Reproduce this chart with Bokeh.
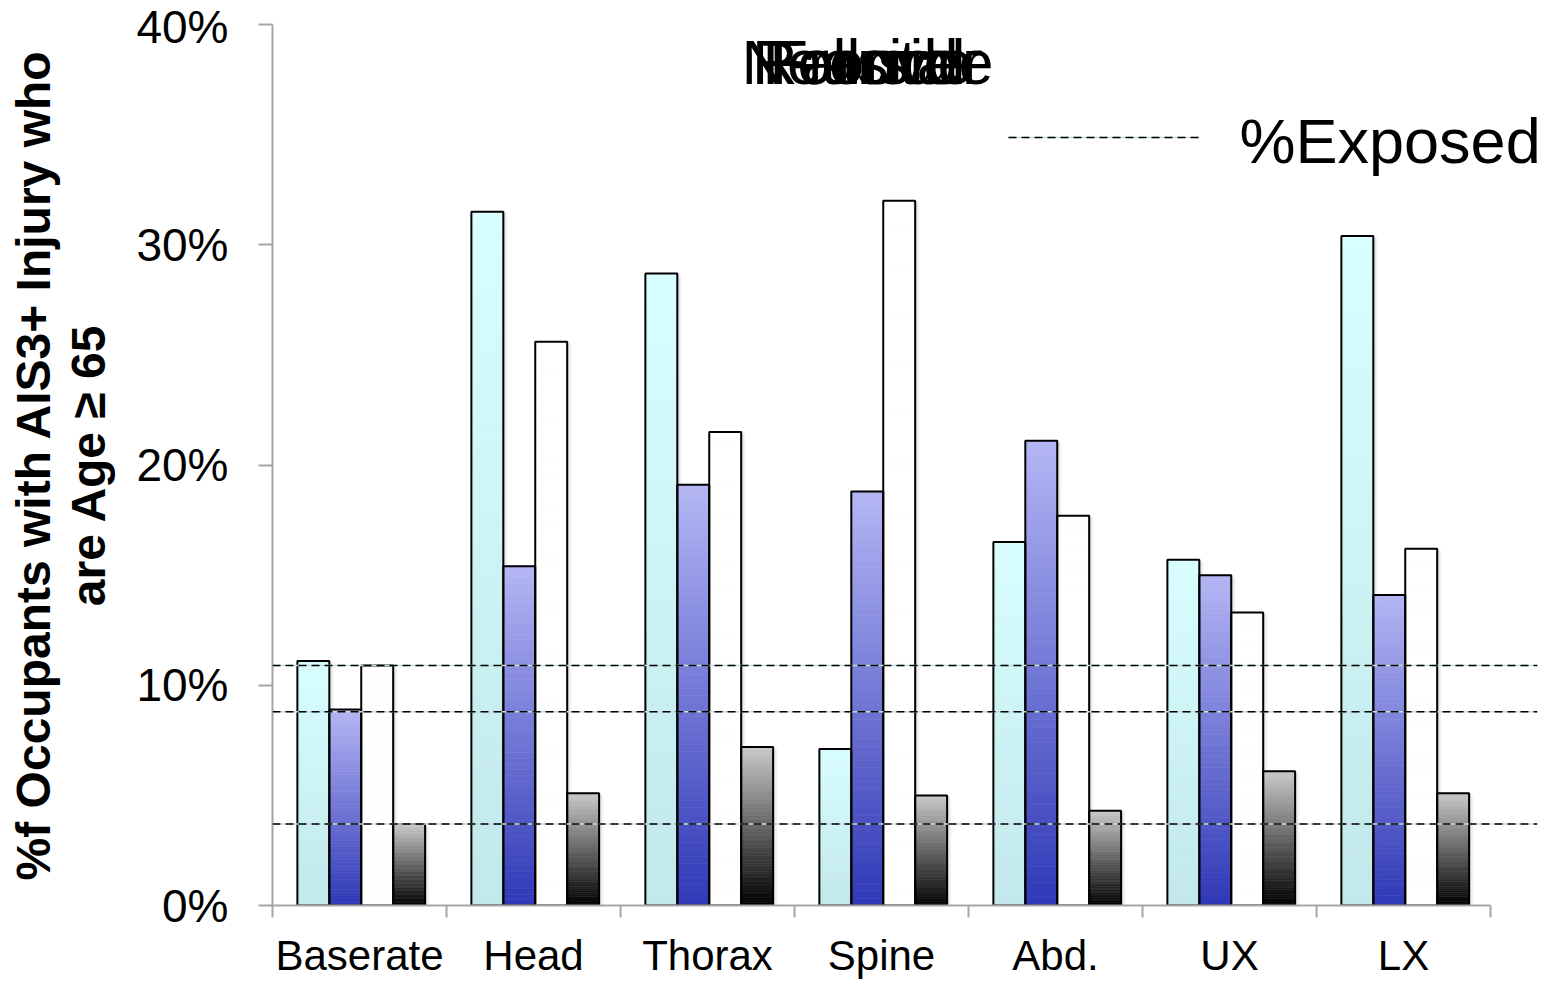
import numpy as np
from bokeh.plotting import figure
from bokeh.models import (Range1d, FixedTicker, Label, Span, Title,
                          LinearAxis, ColumnDataSource)
from bokeh.embed import file_html
from bokeh.resources import INLINE

# ---- data -------------------------------------------------------------
categories = ["Baserate", "Head", "Thorax", "Spine", "Abd.", "UX", "LX"]
series_names = ["Frontal", "Nearside", "Farside", "Rollover"]
frontal = [11.1, 31.5, 28.7, 7.1, 16.5, 15.7, 30.4]
nearside = [8.9, 15.4, 19.1, 18.8, 21.1, 15.0, 14.1]
farside = [10.9, 25.6, 21.5, 32.0, 17.7, 13.3, 16.2]
rollover = [3.7, 5.1, 7.2, 5.0, 4.3, 6.1, 5.1]
exposed = [10.9, 8.8, 3.7]
exposed_label = "%Exposed"
y_ticks = [0, 10, 20, 30, 40]
y_tick_labels = ["0%", "10%", "20%", "30%", "40%"]
y_title = ["%f Occupants with AIS3+ Injury who", "are Age \u2265 65"]

series_values = [frontal, nearside, farside, rollover]
# (bottom colour, top colour) of each series' vertical gradient
series_grad = [("#c2e8eb", "#d8feff"),
               ("#2f38b6", "#b4b6f4"),
               ("#ffffff", "#ffffff"),
               ("#000000", "#cacaca")]

FONT = "Liberation Sans"
AXIS_GREY = "#a6a6a6"

# pixel helpers for annotation placement
X0_PX, CAT_PX, Y0_PX, PCT_PX = 272, 174.0, 905, 22.025


def dx(px):
    return (px - X0_PX) / CAT_PX


def dy(py):
    return (Y0_PX - py) / PCT_PX


def hex_rgb(h):
    h = h.lstrip("#")
    return np.array([int(h[i:i + 2], 16) for i in (0, 2, 4)], dtype=float)


def mix(c0, c1, t):
    c = hex_rgb(c0) * (1 - t) + hex_rgb(c1) * t
    return "#%02x%02x%02x" % tuple(int(round(v)) for v in c)


n = len(categories)

p = figure(width=1549, height=981,
           x_range=Range1d(0, dx(1537)), y_range=Range1d(0, 40),
           x_axis_type=None,
           min_border_left=272, min_border_right=12,
           min_border_top=24, min_border_bottom=76,
           output_backend="svg", toolbar_location=None)
p.outline_line_color = None
p.grid.visible = False
p.background_fill_color = "white"
p.border_fill_color = "white"

# ---- y axis (second title line is its axis label) ----------------------
ax = p.yaxis[0]
ax.ticker = FixedTicker(ticks=y_ticks)
ax.major_label_overrides = {t: s for t, s in zip(y_ticks, y_tick_labels)}
ax.major_label_text_font = FONT
ax.major_label_text_font_size = "46px"
ax.major_label_text_color = "black"
ax.major_label_standoff = 30
ax.major_tick_out = 14
ax.major_tick_in = 0
ax.minor_tick_line_color = None
ax.axis_line_color = AXIS_GREY
ax.axis_line_width = 2
ax.major_tick_line_color = AXIS_GREY
ax.major_tick_line_width = 2
ax.axis_label = y_title[1]
ax.axis_label_text_font = FONT
ax.axis_label_text_font_size = "48px"
ax.axis_label_text_font_style = "bold"
ax.axis_label_text_color = "black"
ax.axis_label_standoff = 18

# ---- category axis: labels at centres, boundary marks as minor ticks ----
xax = LinearAxis(
    ticker=FixedTicker(ticks=[i + 0.5 for i in range(n)],
                       minor_ticks=list(range(n + 1))),
    bounds=(0, n))
xax.major_label_overrides = {i + 0.5: c for i, c in enumerate(categories)}
xax.major_label_text_font = FONT
xax.major_label_text_font_size = "42px"
xax.major_label_text_color = "black"
xax.major_label_standoff = 14
xax.major_tick_out = 0
xax.major_tick_in = 0
xax.major_tick_line_color = None
xax.minor_tick_out = 12
xax.minor_tick_in = 0
xax.minor_tick_line_color = AXIS_GREY
xax.minor_tick_line_width = 2
xax.axis_line_color = AXIS_GREY
xax.axis_line_width = 2
p.add_layout(xax, "below")

# ---- bars with vertical gradients --------------------------------------
BAR_W = 0.1835
GROUP_OFF = 0.143
N_SLICES = 60
sl = dict(left=[], right=[], bottom=[], top=[], color=[])
outl = dict(left=[], right=[], bottom=[], top=[])
for si, vals in enumerate(series_values):
    c_bot, c_top = series_grad[si]
    for ci, v in enumerate(vals):
        left = ci + GROUP_OFF + si * BAR_W
        right = left + BAR_W
        edges = np.linspace(0, v, N_SLICES + 1)
        for k in range(N_SLICES):
            sl["left"].append(left)
            sl["right"].append(right)
            sl["bottom"].append(edges[k])
            sl["top"].append(edges[k + 1])
            sl["color"].append(mix(c_bot, c_top, (k + 0.5) / N_SLICES))
        outl["left"].append(left)
        outl["right"].append(right)
        outl["bottom"].append(0)
        outl["top"].append(v)

# soft shadow behind the bars
p.quad(left=[l + 0.012 for l in outl["left"]],
       right=[r + 0.012 for r in outl["right"]],
       bottom=outl["bottom"], top=[t - 0.1 for t in outl["top"]],
       fill_color="#000000", fill_alpha=0.10, line_color="#000000",
       line_alpha=0.05, line_width=4)
p.quad(left="left", right="right", bottom="bottom", top="top",
       fill_color="color", line_color="color", line_width=0.6,
       source=ColumnDataSource(sl))
p.quad(left="left", right="right", bottom="bottom", top="top",
       fill_color=None, line_color="black", line_width=2,
       source=ColumnDataSource(outl))

# ---- exposure reference lines ------------------------------------------
for v in exposed:
    p.add_layout(Span(location=v, dimension="width", line_color="#c6dede",
                      line_width=1.6))
    p.add_layout(Span(location=v, dimension="width", line_color="black",
                      line_width=1.6, line_dash="8 5"))

# ---- legend ------------------------------------------------------------
for name in series_names:
    p.add_layout(Label(x=dx(867), y=dy(61), text=name, text_align="center",
                       text_baseline="alphabetic", text_font=FONT,
                       text_font_size="63px", text_color="black"))
p.segment(x0=[dx(1008)], y0=[dy(137)], x1=[dx(1198)], y1=[dy(137)],
          line_color="#c6dede", line_width=1.6)
p.segment(x0=[dx(1008)], y0=[dy(137)], x1=[dx(1198)], y1=[dy(137)],
          line_color="black", line_width=1.6, line_dash="8 5")
p.add_layout(Label(x=dx(1239), y=dy(140), text=exposed_label,
                   text_align="left", text_baseline="alphabetic",
                   text_font=FONT, text_font_size="63px", text_color="black"))

# ---- first title line, left of the axis label ---------------------------
p.add_layout(Title(text=y_title[0], align="center", text_font=FONT,
                   text_font_size="48px", text_font_style="bold",
                   text_color="black", standoff=0), "left")

open("out.html", "w").write(file_html(p, INLINE))
